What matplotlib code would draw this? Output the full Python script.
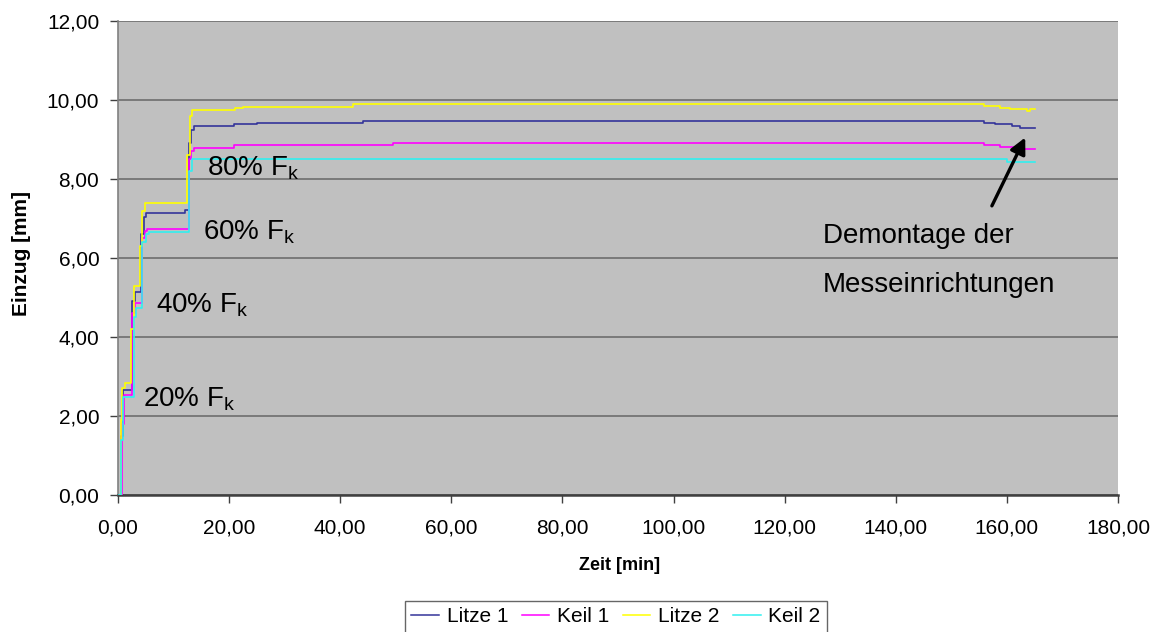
import matplotlib
matplotlib.use("Agg")
import matplotlib.pyplot as plt
from matplotlib.ticker import FuncFormatter, MultipleLocator

plt.rcParams["font.family"] = ["Liberation Sans", "DejaVu Sans"]
plt.rcParams["mathtext.fontset"] = "custom"
plt.rcParams["mathtext.rm"] = "Liberation Sans"
plt.rcParams["mathtext.it"] = "Liberation Sans"

# Messwerte: Zeit [min] und Einzug [mm] je Messstelle (stufenweise Laststeigerung)
litze1_t = [0.3, 0.6, 0.9, 2.6, 3.0, 4.2, 4.6, 5.0, 12.0, 12.7, 13.2, 13.6, 20.8, 25.0, 44.1,
            155.8, 157.9, 160.9, 162.4, 165.0]
litze1_v = [0.0, 1.5, 2.66, 4.9, 5.15, 6.6, 7.05, 7.13, 7.22, 8.9, 9.25, 9.33, 9.38, 9.43, 9.47,
            9.43, 9.38, 9.34, 9.30, 9.30]

keil1_t = [0.3, 0.7, 1.0, 2.6, 3.1, 4.3, 4.8, 5.2, 12.8, 13.2, 13.7, 20.8, 49.5,
           155.8, 158.8, 161.8, 165.0]
keil1_v = [0.0, 1.8, 2.53, 4.6, 4.87, 6.5, 6.68, 6.74, 8.5, 8.70, 8.78, 8.86, 8.92,
           8.86, 8.82, 8.75, 8.75]

litze2_t = [0.3, 0.5, 0.8, 1.2, 2.4, 2.9, 4.0, 4.4, 4.8, 12.5, 12.9, 13.3, 21.1, 22.5, 42.3,
            155.8, 158.8, 160.6, 163.6, 164.2, 165.0]
litze2_v = [0.0, 1.9, 2.7, 2.84, 4.2, 5.29, 6.3, 7.2, 7.38, 8.6, 9.6, 9.75, 9.79, 9.83, 9.89,
            9.85, 9.81, 9.76, 9.73, 9.76, 9.76]

keil2_t = [0.2, 0.5, 0.9, 2.8, 3.3, 4.4, 5.0, 5.5, 12.8, 13.3, 160.0, 165.0]
keil2_v = [0.0, 1.4, 2.47, 4.5, 4.73, 6.4, 6.62, 6.67, 8.2, 8.50, 8.42, 8.42]

series_names = ["Litze 1", "Keil 1", "Litze 2", "Keil 2"]
series_colors = ["#34349a", "#ff00ff", "#ffff00", "#30f0f0"]

# Laststufen und Beschriftungen
stage_labels = ["20% F$_{\\mathrm{k}}$", "40% F$_{\\mathrm{k}}$",
                "60% F$_{\\mathrm{k}}$", "80% F$_{\\mathrm{k}}$"]
stage_pos = [(4.5, 2.23), (6.84, 4.61), (15.3, 6.46), (16.0, 8.10)]

note_lines = ["Demontage der", "Messeinrichtungen"]
note_pos = [(126.9, 6.38), (126.9, 5.14)]
arrow_tail = (157.3, 7.32)
arrow_head = (163.3, 9.05)

W, H = 1160, 632
fig = plt.figure(figsize=(W / 100, H / 100), dpi=100)
fig.patch.set_facecolor("white")
ax = fig.add_axes([118 / W, 1 - 495 / H, 1000 / W, 474 / H])
ax.set_facecolor("#c0c0c0")

for t, v, name, col in zip([litze1_t, keil1_t, litze2_t, keil2_t],
                           [litze1_v, keil1_v, litze2_v, keil2_v],
                           series_names, series_colors):
    ax.plot(t, v, drawstyle="steps-post", color=col, lw=1.2, label=name, zorder=3)

ax.set_xlim(0, 180)
ax.set_ylim(0, 12)
ax.xaxis.set_major_locator(MultipleLocator(20))
ax.yaxis.set_major_locator(MultipleLocator(2))
fmt = FuncFormatter(lambda x, p: f"{x:.2f}".replace(".", ","))
ax.xaxis.set_major_formatter(fmt)
ax.yaxis.set_major_formatter(fmt)
ax.yaxis.grid(True, color="#6e6e6e", lw=1.2, zorder=1)
ax.set_axisbelow(True)

for s in ["top", "right"]:
    ax.spines[s].set_visible(False)
ax.spines["left"].set_color("#808080")
ax.spines["left"].set_linewidth(1.2)
ax.spines["bottom"].set_color("#404040")
ax.spines["bottom"].set_linewidth(1.8)

ax.tick_params(axis="y", direction="out", length=6, width=1.0, color="#404040",
               labelsize=15, pad=7.5)
ax.tick_params(axis="x", direction="out", length=6, width=1.0, color="#404040",
               labelsize=15, pad=11)

for lab, (x, y) in zip(stage_labels, stage_pos):
    ax.text(x, y, lab, fontsize=20, ha="left", va="baseline", color="black", zorder=4)

for line, (x, y) in zip(note_lines, note_pos):
    ax.text(x, y, line, fontsize=20, ha="left", va="baseline", color="black", zorder=4)

ax.annotate("", xy=arrow_head, xytext=arrow_tail,
            arrowprops=dict(arrowstyle="-|>", color="black", lw=2.4,
                            mutation_scale=24, shrinkA=0, shrinkB=0), zorder=5)

fig.text(620 / W, 1 - 565 / H, "Zeit [min]", fontsize=13, fontweight="bold",
         ha="center", va="center")
fig.text(22 / W, 1 - 253 / H, "Einzug [mm]", fontsize=15, fontweight="bold",
         ha="center", va="center", rotation=90)

leg = fig.legend(loc="upper left", bbox_to_anchor=(405 / W, 1 - 601 / H), ncol=4,
                 fontsize=15, frameon=True, fancybox=False, handlelength=1.34,
                 handletextpad=0.38, columnspacing=0.62, borderpad=0.3,
                 borderaxespad=0)
leg.get_frame().set_edgecolor("#404040")
leg.get_frame().set_linewidth(1.0)
for h in leg.get_lines():
    h.set_linewidth(1.1)

fig.savefig("out.png", dpi=100, facecolor="white")
